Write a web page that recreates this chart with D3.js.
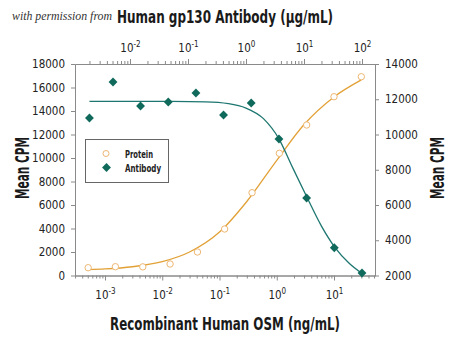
<!DOCTYPE html>
<html><head><meta charset="utf-8">
<script src="https://cdn.jsdelivr.net/npm/d3@7"></script>
<style>body{margin:0;background:#fff}</style></head>
<body><svg id="c" width="450" height="338"></svg>
<script>
// ---- data ----
const proteinX = [0.000508, 0.00152, 0.00457, 0.0137, 0.0412, 0.123, 0.370, 1.11, 3.33, 10, 30];
const proteinY = [664, 749, 735, 979, 2000, 3957, 7046, 10400, 12808, 15216, 16918];
const antibodyX = [0.002, 0.0051, 0.0152, 0.0457, 0.137, 0.41, 1.23, 3.7, 11.1, 33.3, 100];
const antibodyY = [10937, 12979, 11617, 11844, 12355, 11107, 11788, 9745, 6397, 3577, 2142];
// fitted curves
const proteinFitX = [0.0005, 0.001, 0.003, 0.01, 0.03, 0.1, 0.3, 1, 3, 10, 30];
const proteinFitY = [500, 560, 745, 1180, 2000, 3700, 6300, 9800, 12850, 15200, 16650];
const antibodyFitX = [0.002, 0.01, 0.05, 0.2, 0.5, 1, 2, 3.7, 6, 11.4, 20, 34, 60, 100];
const antibodyFitY = [11880, 11880, 11875, 11850, 11750, 11500, 10900, 9750, 8300, 6400, 4800, 3600, 2700, 2120];
const leftTicks = [0, 2000, 4000, 6000, 8000, 10000, 12000, 14000, 16000, 18000];
const rightTicks = [2000, 4000, 6000, 8000, 10000, 12000, 14000];
const bottomTicks = [1e-3, 1e-2, 1e-1, 1, 10];
const bottomExp = ["-3", "-2", "-1", "0", "1"];
const topTicks = [1e-2, 1e-1, 1, 10, 100];
const topExp = ["-2", "-1", "0", "1", "2"];
const seriesNames = ["Protein", "Antibody"];

const svg = d3.select("#c");
const FONT = "'Liberation Sans Narrow','DejaVu Sans Condensed',Roboto,sans-serif";
const AX = "#8a8a8a";
const PROT = "#E2A136", PROT_M = "#EDB772";
const ANTI = "#1D7670", ANTI_M = "#0F6A5C";

const L = 75, R = 375, T = 64, B = 275.5;
const xB = d3.scaleLog().domain([Math.pow(10, -3.524), Math.pow(10, 1.716)]).range([L, R]);
const xT = d3.scaleLog().domain([Math.pow(10, -2.948), Math.pow(10, 2.224)]).range([L, R]);
const yL = d3.scaleLinear().domain([0, 18000]).range([B, T]);
const yR = d3.scaleLinear().domain([2000, 14000]).range([B, T]);

function minors(scale) {
  const [a, b] = scale.domain();
  const out = [];
  for (let e = Math.floor(Math.log10(a)); e <= Math.ceil(Math.log10(b)); e++) {
    for (let m = 2; m <= 9; m++) {
      const v = m * Math.pow(10, e);
      if (v >= a && v <= b) out.push(v);
    }
  }
  return out;
}

function styleAxis(g) {
  g.selectAll("path,line").attr("stroke", AX).attr("stroke-width", 1);
  g.selectAll("text").attr("font-family", FONT).attr("font-size", 11.5).attr("fill", "#222");
}

// minor ticks
svg.append("g").attr("transform", `translate(0,${B})`)
  .call(d3.axisBottom(xB).tickValues(minors(xB)).tickSize(3).tickSizeOuter(0).tickFormat(""))
  .call(styleAxis);
svg.append("g").attr("transform", `translate(0,${T})`)
  .call(d3.axisTop(xT).tickValues(minors(xT)).tickSize(3).tickSizeOuter(0).tickFormat(""))
  .call(styleAxis);

// major log ticks with superscript labels
const gb = svg.append("g").attr("transform", `translate(0,${B})`)
  .call(d3.axisBottom(xB).tickValues(bottomTicks).tickSize(5).tickSizeOuter(0).tickPadding(10).tickFormat(() => ""))
  .call(styleAxis);
gb.selectAll(".tick text").each(function (d, i) {
  const t = d3.select(this);
  t.text("10");
  t.append("tspan").attr("dy", -5).attr("font-size", 8).text(bottomExp[i]);
});
const gt = svg.append("g").attr("transform", `translate(0,${T})`)
  .call(d3.axisTop(xT).tickValues(topTicks).tickSize(5).tickSizeOuter(0).tickPadding(7).tickFormat(() => ""))
  .call(styleAxis);
gt.selectAll(".tick text").each(function (d, i) {
  const t = d3.select(this);
  t.text("10");
  t.append("tspan").attr("dy", -5).attr("font-size", 8).text(topExp[i]);
});

svg.append("g").attr("transform", `translate(${L},0)`)
  .call(d3.axisLeft(yL).tickValues(leftTicks).tickSize(4).tickSizeOuter(0).tickPadding(6).tickFormat(d3.format("d")))
  .call(styleAxis);
svg.append("g").attr("transform", `translate(${R},0)`)
  .call(d3.axisRight(yR).tickValues(rightTicks).tickSize(4).tickSizeOuter(0).tickPadding(6).tickFormat(d3.format("d")))
  .call(styleAxis);

// curves
const protLine = d3.line().x(d => xB(d[0])).y(d => yL(d[1])).curve(d3.curveMonotoneX);
const antiLine = d3.line().x(d => xT(d[0])).y(d => yR(d[1])).curve(d3.curveMonotoneX);
svg.append("path").attr("d", protLine(d3.zip(proteinFitX, proteinFitY)))
  .attr("fill", "none").attr("stroke", PROT).attr("stroke-width", 1.3);
svg.append("path").attr("d", antiLine(d3.zip(antibodyFitX, antibodyFitY)))
  .attr("fill", "none").attr("stroke", ANTI).attr("stroke-width", 1.3);

// markers
const diamond = d3.symbol().type(d3.symbolDiamond2).size(50);
svg.append("g").selectAll("circle").data(d3.zip(proteinX, proteinY)).join("circle")
  .attr("cx", d => xB(d[0])).attr("cy", d => yL(d[1])).attr("r", 3.2)
  .attr("fill", "#fff").attr("stroke", PROT_M).attr("stroke-width", 1);
svg.append("g").selectAll("path").data(d3.zip(antibodyX, antibodyY)).join("path")
  .attr("d", diamond).attr("transform", d => `translate(${xT(d[0])},${yR(d[1])})`)
  .attr("fill", ANTI_M);

// legend
const lg = svg.append("g");
lg.append("rect").attr("x", 85.5).attr("y", 139.5).attr("width", 83).attr("height", 43)
  .attr("fill", "#fff").attr("stroke", "#666").attr("stroke-width", 1);
lg.append("circle").attr("cx", 106).attr("cy", 153.5).attr("r", 3)
  .attr("fill", "#fff").attr("stroke", PROT_M);
lg.append("path").attr("d", diamond).attr("transform", "translate(106.5,167.5)").attr("fill", ANTI_M);
const legendLen = [28, 36];
lg.selectAll("text").data(seriesNames).join("text")
  .attr("x", 125).attr("y", (d, i) => 157.5 + i * 14.5)
  .attr("font-family", FONT).attr("font-size", 11).attr("font-weight", 600).attr("fill", "#222")
  .attr("textLength", (d, i) => legendLen[i]).attr("lengthAdjust", "spacingAndGlyphs")
  .text(d => d);

// titles
svg.append("text").attr("x", 12).attr("y", 20)
  .attr("font-family", "'Liberation Serif','DejaVu Serif',serif").attr("font-style", "italic")
  .attr("font-size", 11.5).attr("fill", "#333").attr("textLength", 100).attr("lengthAdjust", "spacingAndGlyphs")
  .text("with permission from");
svg.append("text").attr("x", 117).attr("y", 23)
  .attr("font-family", FONT).attr("font-weight", 700).attr("font-size", 18).attr("fill", "#1a1a1a")
  .attr("textLength", 216).attr("lengthAdjust", "spacingAndGlyphs")
  .text("Human gp130 Antibody (\u00b5g/mL)");
svg.append("text").attr("x", 110).attr("y", 330)
  .attr("font-family", FONT).attr("font-weight", 700).attr("font-size", 18).attr("fill", "#1a1a1a")
  .attr("textLength", 230).attr("lengthAdjust", "spacingAndGlyphs")
  .text("Recombinant Human OSM (ng/mL)");
[29, 444].forEach(xb => {
  svg.append("text").attr("transform", `translate(${xb},${168 + 31}) rotate(-90)`)
    .attr("font-family", FONT).attr("font-weight", 700).attr("font-size", 19).attr("fill", "#1a1a1a")
    .attr("textLength", 62).attr("lengthAdjust", "spacingAndGlyphs")
    .text("Mean CPM");
});
</script>
</body></html>
